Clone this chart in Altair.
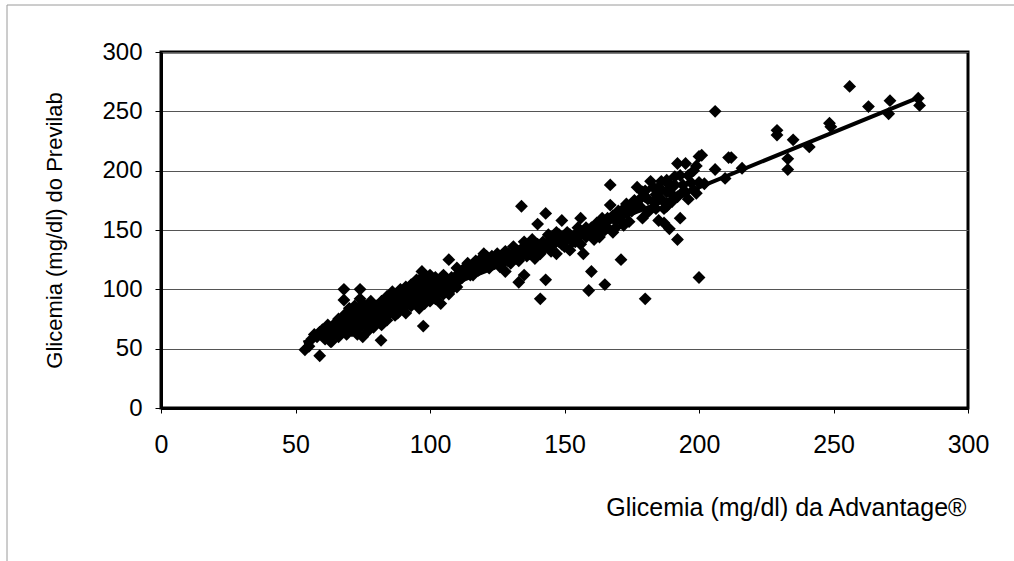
import altair as alt
import pandas as pd

# Advantage (x) vs Previlab (y) glycemia readings
adv = [
    53.5, 59, 68, 74, 68, 74, 63.4, 81.8, 97.5, 97, 107, 69.7,
    55, 56, 57, 58, 59, 60, 60, 61, 62, 62, 63, 63, 64, 64, 65, 65, 66, 66, 67, 67,
    68, 68, 68, 69, 69, 70, 70, 70, 71, 71, 72, 72, 72, 73, 73, 74, 74, 74, 75, 75, 75,
    76, 76, 77, 77, 77, 78, 78, 78, 79, 79, 80, 80, 80, 81, 81, 82, 82, 82, 83, 83,
    84, 84, 84, 85, 85, 86, 86, 86, 87, 87, 88, 88, 88, 89, 89, 90, 90, 90, 91, 91, 91,
    92, 92, 93, 93, 93, 94, 94, 95, 95, 95, 96, 96, 96, 97, 97, 97, 98, 98, 98, 99, 99, 99,
    100, 100, 100, 100, 101, 101, 102, 102, 102, 103, 103, 104, 104, 104, 105, 105, 105,
    106, 106, 107, 107, 108, 108, 109, 110, 110, 111, 112,
    113, 114, 115, 116, 117, 118, 119, 120, 120, 121, 122, 123, 124, 125, 126, 127, 128, 128,
    129, 130, 131, 132, 133, 133, 134, 134, 135, 135, 136, 137, 138, 138, 139, 140, 140, 141,
    141, 142, 143, 143, 143, 144, 145, 145, 146, 147, 147, 148, 149, 150, 150, 151, 152, 153,
    154, 155, 156, 156, 157, 158, 159, 159, 160, 160, 161, 162, 163, 164, 165, 165, 166, 167,
    167, 168, 169, 170, 171, 172, 172,
    110, 112, 114, 116, 118, 119, 121, 122, 124, 126, 127, 129, 130, 131, 132, 133, 134, 136,
    137, 139, 140, 142, 144, 146, 148, 149, 151, 152, 154, 155, 157, 158, 160, 161, 162, 163,
    164, 166, 168, 169, 170, 171, 173, 174, 176, 178, 179, 181, 183, 186, 188, 190, 191, 193,
    194, 196, 198, 199,
    173, 174, 175, 176, 177, 178, 179, 180, 180, 180, 181, 182, 183, 184, 184, 185, 185, 186,
    186, 187, 187, 188, 188, 189, 189, 190, 190, 191, 192, 192, 192, 193, 194, 195, 195, 196,
    197, 198, 199, 200, 200, 200,
    201, 202, 206, 206, 209.7, 211, 212, 216, 229, 229, 233, 233, 235, 241, 248.5, 249, 256,
    263, 270.5, 271, 281.5, 282,
]
prev = [
    49, 44, 100, 100, 91, 92, 56, 57, 69, 115, 125, 79,
    52, 58, 62, 60, 64, 66, 62, 58, 65, 70, 60, 56, 68, 63, 72, 66, 60, 75, 70, 64,
    78, 72, 66, 62, 80, 74, 68, 84, 77, 65, 70, 80, 86, 74, 62, 78, 83, 68, 72, 88, 60,
    80, 76, 70, 84, 65, 82, 74, 90, 78, 68, 86, 80, 72, 84, 76, 90, 70, 80, 86, 76,
    94, 82, 74, 88, 80, 92, 84, 98, 78, 90, 86, 95, 80, 92, 100, 88, 84, 96, 92, 102, 80,
    98, 88, 94, 104, 86, 100, 92, 96, 108, 88, 102, 94, 84, 98, 110, 90, 104, 96, 88, 100, 108, 94,
    104, 98, 90, 112, 96, 106, 100, 92, 110, 104, 96, 108, 100, 88, 104, 112, 96,
    100, 108, 104, 96, 110, 100, 106, 112, 102, 108, 116,
    118, 122, 112, 120, 124, 116, 126, 130, 120, 124, 118, 128, 122, 130, 119, 126, 115, 132,
    124, 128, 136, 130, 106, 124, 134, 170, 112, 140, 128, 136, 132, 142, 126, 138, 155, 92,
    130, 140, 108, 164, 136, 146, 132, 142, 138, 130, 148, 140, 158, 144, 136, 148, 133, 140,
    146, 152, 160, 138, 130, 144, 99, 150, 115, 146, 142, 152, 148, 156, 104, 150, 160, 171,
    188, 148, 158, 162, 125, 154, 168,
    118, 110, 116, 112, 122, 118, 128, 124, 126, 128, 122, 130, 122, 130, 126, 132, 128, 134,
    130, 136, 132, 134, 138, 142, 146, 138, 142, 146, 140, 144, 148, 152, 152, 150, 156, 144,
    160, 152, 162, 152, 166, 158, 164, 170, 168, 176, 182, 176, 186, 184, 192, 186, 188, 196,
    182, 196, 200, 204,
    172, 157, 166, 175, 186, 170, 160, 92, 178, 183, 165, 191, 174, 168, 180, 186, 158, 191,
    176, 168, 156, 182, 170, 188, 151, 180, 174, 195, 142, 206, 178, 160, 188, 206, 182, 176,
    190, 184, 181, 110, 212, 190,
    213, 189, 250, 201, 193.5, 211, 211, 202, 234, 230, 210, 201, 226, 220, 240, 237, 271,
    254, 248, 259, 261, 255,
]

# trend line
trend_x = [53, 200, 282]
trend_y = [55, 186, 262]

tick_vals = [0, 50, 100, 150, 200, 250, 300]

pts = pd.DataFrame({"x": adv, "y": prev})
trend = pd.DataFrame({"x": trend_x, "y": trend_y})

FONT = "Liberation Sans"

x_axis = alt.Axis(
    values=tick_vals, grid=False, domainColor="black", domainWidth=3,
    tickColor="black", tickSize=5, tickWidth=1, labelFlush=False,
    labelFontSize=25, labelPadding=19, labelColor="black", labelFont=FONT,
    title="Glicemia (mg/dl) da Advantage®", titleFont=FONT, titleFontSize=25,
    titleFontWeight="normal", titleColor="black", titleX=805, titleY=107,
    titleAlign="right", titleBaseline="alphabetic", titleAnchor="end",
)
y_axis = alt.Axis(
    values=tick_vals, grid=True, gridColor="#555555", gridWidth=1,
    domainColor="black", domainWidth=3, labelFlush=False,
    tickColor="black", tickSize=6, tickWidth=1,
    labelFontSize=24, labelPadding=13, labelColor="black", labelFont=FONT,
    title="Glicemia (mg/dl) do Previlab", titleFont=FONT, titleFontSize=22,
    titleFontWeight="normal", titleColor="black", titleX=-100, titleY=178,
    titleAngle=270, titleAlign="center", titleBaseline="alphabetic",
)
xs = alt.Scale(domain=[0, 300], nice=False, zero=True)
ys = alt.Scale(domain=[0, 300], nice=False, zero=True)

frame = alt.Chart(pd.DataFrame({"a": [0]})).mark_rect(
    fill=None, stroke="#9a9a9a", strokeWidth=1
).encode(
    x=alt.value(-154), x2=alt.value(870), y=alt.value(-47), y2=alt.value(530)
)

points = alt.Chart(pts).mark_point(
    shape="diamond", filled=True, color="black", size=165, opacity=1
).encode(
    x=alt.X("x:Q", scale=xs, axis=x_axis),
    y=alt.Y("y:Q", scale=ys, axis=y_axis),
)

line = alt.Chart(trend).mark_line(color="black", strokeWidth=4).encode(
    x=alt.X("x:Q", scale=xs, axis=x_axis),
    y=alt.Y("y:Q", scale=ys, axis=y_axis),
)

chart = alt.layer(frame, points, line).properties(
    width=807, height=356,
    autosize=alt.AutoSizeParams(type="none"),
    padding={"left": 161, "top": 52, "right": 46, "bottom": 153},
    background="white",
).configure_view(stroke="black", strokeWidth=3)

chart.save("out.html", embed_options={"renderer": "svg", "actions": False})
